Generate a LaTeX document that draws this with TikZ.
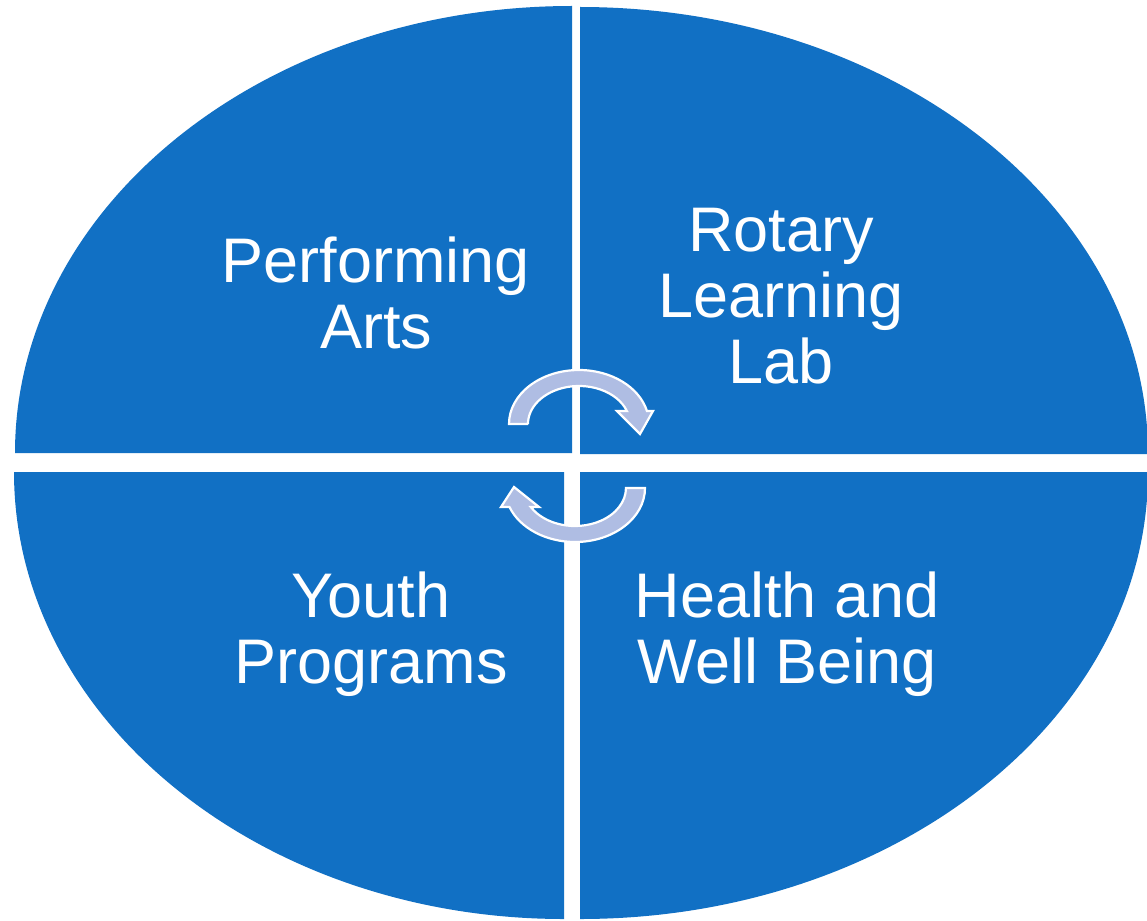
\documentclass[tikz,border=0pt]{standalone}
\usepackage{fontspec}
\setmainfont{Liberation Sans}
\definecolor{quadblue}{RGB}{17,112,196}
\definecolor{arrowfill}{RGB}{175,189,227}
\begin{document}
\begin{tikzpicture}[x=1pt,y=-1pt,
  quad/.style={fill=quadblue},
  lbl/.style={text=white, align=center, font=\fontsize{63}{66}\selectfont, inner sep=0pt},
  cyc/.style={fill=arrowfill, draw=white, line width=2.2pt, line join=miter}]
\useasboundingbox[fill=white] (0,0) rectangle (1147,920);
% quadrants
\fill[quad] (572,453) coordinate (tl) -- (15,453) arc[start angle=180,end angle=270,x radius=557,y radius=447] -- cycle;
\fill[quad] (580,454) coordinate (tr) -- (580,7) arc[start angle=270,end angle=360,x radius=568,y radius=447] -- cycle;
\fill[quad] (564,472) coordinate (bl) -- (564,919) arc[start angle=90,end angle=180,x radius=550,y radius=447] -- cycle;
\fill[quad] (580,472) coordinate (br) -- (1148,472) arc[start angle=0,end angle=90,x radius=568,y radius=447] -- cycle;
% labels (anchor base = baseline of last line)
\node[lbl, anchor=base] (pa) at (376,348) {Performing\\Arts};
\node[lbl, anchor=base] (rl) at (781,383) {Rotary\\Learning\\Lab};
\node[lbl, anchor=base] (yp) at (371,683) {Youth\\Programs};
\node[lbl, anchor=base] (hw) at (787,683) {Health and\\Well Being};
% circular arrows
\filldraw[cyc] (528,424) -- (509,424) arc[start angle=180,end angle=346.1,x radius=70,y radius=54]
  -- (653,411) -- (640,434) -- (617,411) -- (626.9,411)
  arc[start angle=340,end angle=180,x radius=51,y radius=38] -- cycle;
\filldraw[cyc] (626,488) -- (645,488) arc[start angle=0,end angle=159.4,x radius=70,y radius=54]
  -- (501,507) -- (514,487) -- (539,507) -- (530.8,507)
  arc[start angle=150,end angle=0,x radius=51,y radius=38] -- cycle;
\end{tikzpicture}
\end{document}
